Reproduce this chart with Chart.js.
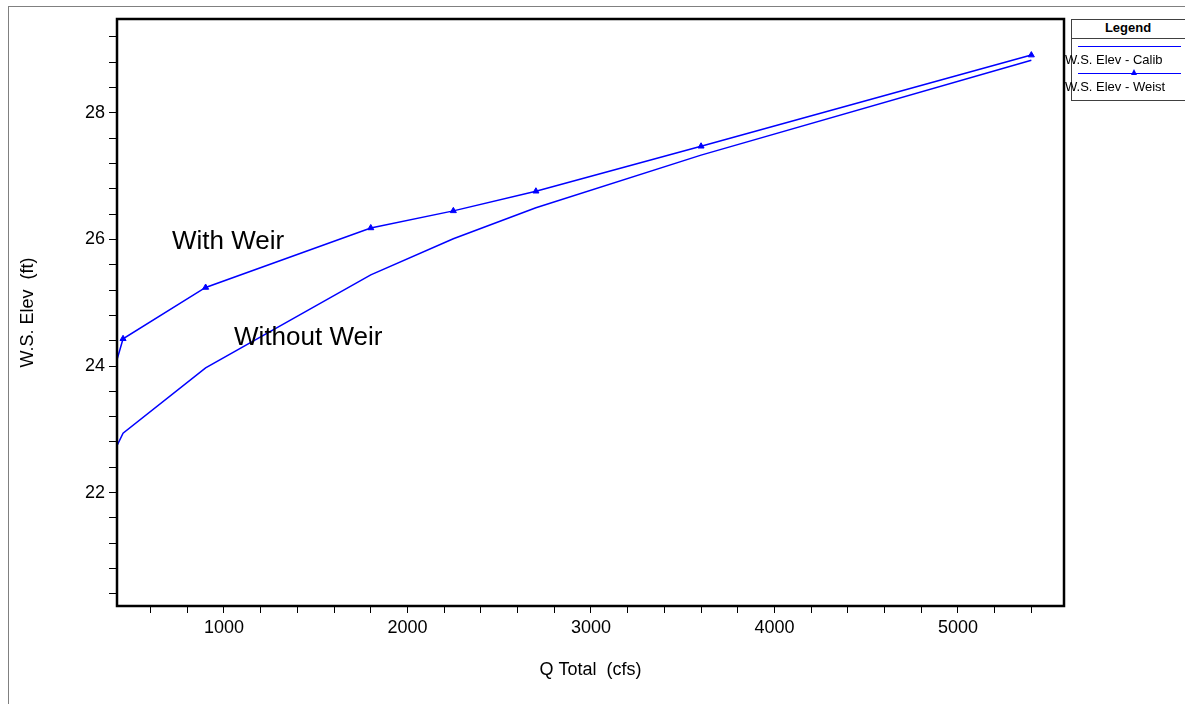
<!DOCTYPE html>
<html>
<head>
<meta charset="utf-8">
<script src="https://cdn.jsdelivr.net/npm/chart.js@4.4.0/dist/chart.umd.min.js"></script>
<style>
  html, body { margin: 0; padding: 0; background: #fff; }
  #wrap { position: relative; width: 1185px; height: 704px; overflow: hidden; }
  #frame { position: absolute; left: 8px; top: 6px; right: -5px; bottom: -5px;
           border-left: 1px solid #808080; border-top: 1px solid #808080; pointer-events: none; }
  #legend { position: absolute; left: 1071px; top: 19px; width: 130px; height: 80px;
            border: 1px solid #404040; background: #fff;
            font-family: "Liberation Sans", Arial, sans-serif; font-size: 13px; color: #000; }
  #legend .head { height: 18px; border-bottom: 1px solid #404040; text-align: center;
                  font-weight: bold; line-height: 16px; padding-right: 18px; }
  #legend .sample { position: absolute; left: 6px; width: 103px; height: 0;
                    border-top: 1.5px solid #0000ff; }
  #legend .tri { position: absolute; left: 53px; top: -5px; width: 0; height: 0;
                 border-left: 3.5px solid transparent; border-right: 3.5px solid transparent;
                 border-bottom: 6px solid #0000ff; }
  #legend .lbl { position: absolute; left: -7px; white-space: nowrap; line-height: 14px; }
</style>
</head>
<body>
<div id="wrap">
  <canvas id="chart" width="1185" height="704"></canvas>
  <div id="frame"></div>
  <div id="legend">
    <div class="head">Legend</div>
    <div class="sample" style="top:26px"></div>
    <div class="lbl" style="top:33px">W.S. Elev - Calib</div>
    <div class="sample" style="top:53px"><div class="tri"></div></div>
    <div class="lbl" style="top:60px">W.S. Elev - Weist</div>
  </div>
</div>
<script>
// Q Total (cfs) of each profile; first value is where the lines leave the left axis
const qTotal = [417, 450, 900, 1800, 2250, 2700, 3600, 5400];
// W.S. Elev (ft)
const elevCalib = [22.74, 22.94, 23.97, 25.44, 26.01, 26.50, 27.33, 28.83];
const elevWeist = [24.10, 24.43, 25.24, 26.18, 26.45, 26.76, 27.47, 28.91];

const seriesNames = ["W.S. Elev - Calib", "W.S. Elev - Weist"];
const noteTexts = ["With Weir", "Without Weir"];
const noteAt = [[717, 25.96], [1055, 24.44]];

const xMajor = 1000, xMinor = 200;
const yMajor = 2, yMinor = 0.4;

const font = "'Liberation Sans', Arial, sans-serif";
const blue = "#0000ff";

const toPoints = (ys) => qTotal.map((q, i) => ({ x: q, y: ys[i] }));

const frame = {
    id: "frame",
    afterDatasetsDraw(chart) {
        const { ctx, chartArea: a } = chart;
        ctx.save();
        ctx.strokeStyle = "#000";
        ctx.lineWidth = 2.5;
        ctx.strokeRect(a.left, a.top, a.right - a.left, a.bottom - a.top);
        ctx.restore();
    },
};

const notes = {
    id: "notes",
    afterDatasetsDraw(chart) {
        const { ctx, scales } = chart;
        ctx.save();
        ctx.font = "26px " + font;
        ctx.fillStyle = "#000";
        ctx.textBaseline = "middle";
        noteTexts.forEach((t, i) => {
            ctx.fillText(t, scales.x.getPixelForValue(noteAt[i][0]), scales.y.getPixelForValue(noteAt[i][1]));
        });
        ctx.restore();
    },
};

new Chart(document.getElementById("chart"), {
    type: "line",
    data: {
        datasets: [
            { label: seriesNames[0], data: toPoints(elevCalib), borderColor: blue, borderWidth: 1.5,
              pointRadius: 0, fill: false },
            { label: seriesNames[1], data: toPoints(elevWeist), borderColor: blue, borderWidth: 1.5,
              backgroundColor: blue, pointStyle: "triangle",
              pointRadius: (c) => (c.dataIndex === 0 ? 0 : 3.5), pointBorderWidth: 1, fill: false },
        ],
    },
    options: {
        responsive: false,
        animation: false,
        layout: { padding: { left: 0, top: 19, right: 121, bottom: 0 } },
        plugins: { legend: { display: false }, tooltip: { enabled: false } },
        scales: {
            x: {
                type: "linear",
                min: 417,
                max: 5578,
                afterFit: (s) => { s.height = 98; },
                afterBuildTicks: (s) => {
                    const t = [];
                    for (let v = 600; v <= 5400; v += xMinor) t.push({ value: v });
                    s.ticks = t;
                },
                ticks: {
                    autoSkip: false, maxRotation: 0, padding: 4, color: "#000",
                    font: { family: font, size: 18 },
                    callback: (v) => (v % xMajor === 0 ? String(v) : ""),
                },
                grid: { drawOnChartArea: false, tickLength: 7, tickColor: "#000", tickWidth: 1 },
                border: { display: false },
                title: { display: true, text: "Q Total  (cfs)", color: "#000",
                         font: { family: font, size: 18 }, padding: { top: 0, bottom: 23 } },
            },
            y: {
                min: 20.21,
                max: 29.48,
                afterFit: (s) => { s.width = 117; },
                afterBuildTicks: (s) => {
                    const t = [];
                    for (let k = 51; k <= 73; k++) t.push({ value: Math.round(k * yMinor * 10) / 10 });
                    s.ticks = t;
                },
                ticks: {
                    autoSkip: false, padding: 4, color: "#000",
                    font: { family: font, size: 18 },
                    callback: (v) => (Math.abs(v / yMajor - Math.round(v / yMajor)) < 1e-6 ? String(Math.round(v)) : ""),
                },
                grid: { drawOnChartArea: false, tickLength: 8, tickColor: "#000", tickWidth: 1 },
                border: { display: false },
                title: { display: true, text: "W.S. Elev  (ft)", color: "#000",
                         font: { family: font, size: 18 }, padding: { top: 17, bottom: 0 } },
            },
        },
    },
    plugins: [frame, notes],
});
</script>
</body>
</html>
